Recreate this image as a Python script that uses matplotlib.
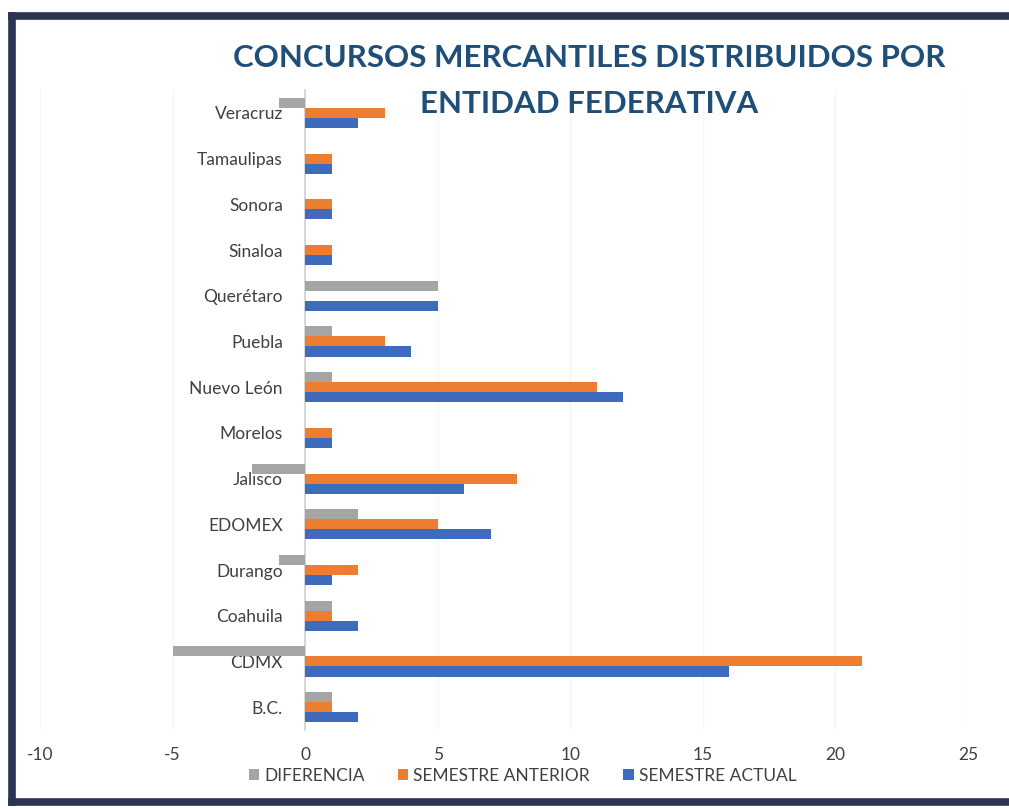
import numpy as np
import matplotlib
matplotlib.use("Agg")
from matplotlib import pyplot as plt
from matplotlib.lines import Line2D

# data (bottom -> top, as in the chart)
estados = ['B.C.', 'CDMX', 'Coahuila', 'Durango', 'EDOMEX', 'Jalisco', 'Morelos',
           'Nuevo León', 'Puebla', 'Querétaro', 'Sinaloa', 'Sonora', 'Tamaulipas', 'Veracruz']
diferencia = [1, -5, 1, -1, 2, -2, 0, 1, 1, 5, 0, 0, 0, -1]
semestre_anterior = [1, 21, 1, 2, 5, 8, 1, 11, 3, 0, 1, 1, 1, 3]
semestre_actual = [2, 16, 2, 1, 7, 6, 1, 12, 4, 5, 1, 1, 1, 2]
x_ticks = [-10, -5, 0, 5, 10, 15, 20, 25]

plt.rcParams['font.family'] = ['Lato', 'DejaVu Sans']

fig = plt.figure(figsize=(10.09, 8.08), dpi=100)
ax = fig.add_axes([0.0396, 0.0965, 0.9198, 0.7921])

y = np.arange(len(estados))
h = 0.22
ax.barh(y + h, diferencia, height=h, color='#a5a5a5', label='DIFERENCIA', zorder=3)
ax.barh(y, semestre_anterior, height=h, color='#ed7d31', label='SEMESTRE ANTERIOR', zorder=3)
ax.barh(y - h, semestre_actual, height=h, color='#3e6bbd', label='SEMESTRE ACTUAL', zorder=3)

ax.set_xlim(-10, 25)
ax.set_ylim(-0.5, len(estados) - 0.5)
ax.set_xticks(x_ticks)
ax.set_xticklabels([str(v) for v in x_ticks])
ax.grid(axis='x', color='#f5f5f5', linewidth=1, zorder=0)
ax.set_axisbelow(True)

for s in ['top', 'right', 'bottom']:
    ax.spines[s].set_visible(False)
ax.spines['left'].set_position(('data', 0))
ax.spines['left'].set_color('#d0d0d0')
ax.spines['left'].set_linewidth(1.2)

ax.set_yticks(y)
ax.set_yticklabels(estados)
ax.tick_params(axis='y', length=0, pad=16, labelsize=12.5, labelcolor='#404040')
ax.tick_params(axis='x', length=0, pad=12, labelsize=12.5, labelcolor='#404040')

fig.text(0.584, 0.946, 'CONCURSOS MERCANTILES DISTRIBUIDOS POR\nENTIDAD FEDERATIVA',
         ha='center', va='top', fontsize=22.5, fontweight='bold', color='#1f4e79',
         linespacing=1.8)

ax.legend(loc='upper center', bbox_to_anchor=(0.52, -0.035), ncol=3, frameon=False,
          fontsize=12.5, labelcolor='#404040', handlelength=0.6, handleheight=0.6,
          handletextpad=0.3, columnspacing=1.9)

# dark frame around the chart (right edge is cut off in the scan)
frame = dict(color='#2b3553', linewidth=5.5, transform=fig.transFigure, solid_capstyle='projecting')
fig.lines.append(Line2D([0.012, 0.012], [0.008, 0.980], **frame))
fig.lines.append(Line2D([0.012, 1.0], [0.980, 0.980], **frame))
fig.lines.append(Line2D([0.012, 1.0], [0.008, 0.008], **frame))

fig.savefig('out.png', dpi=100)
